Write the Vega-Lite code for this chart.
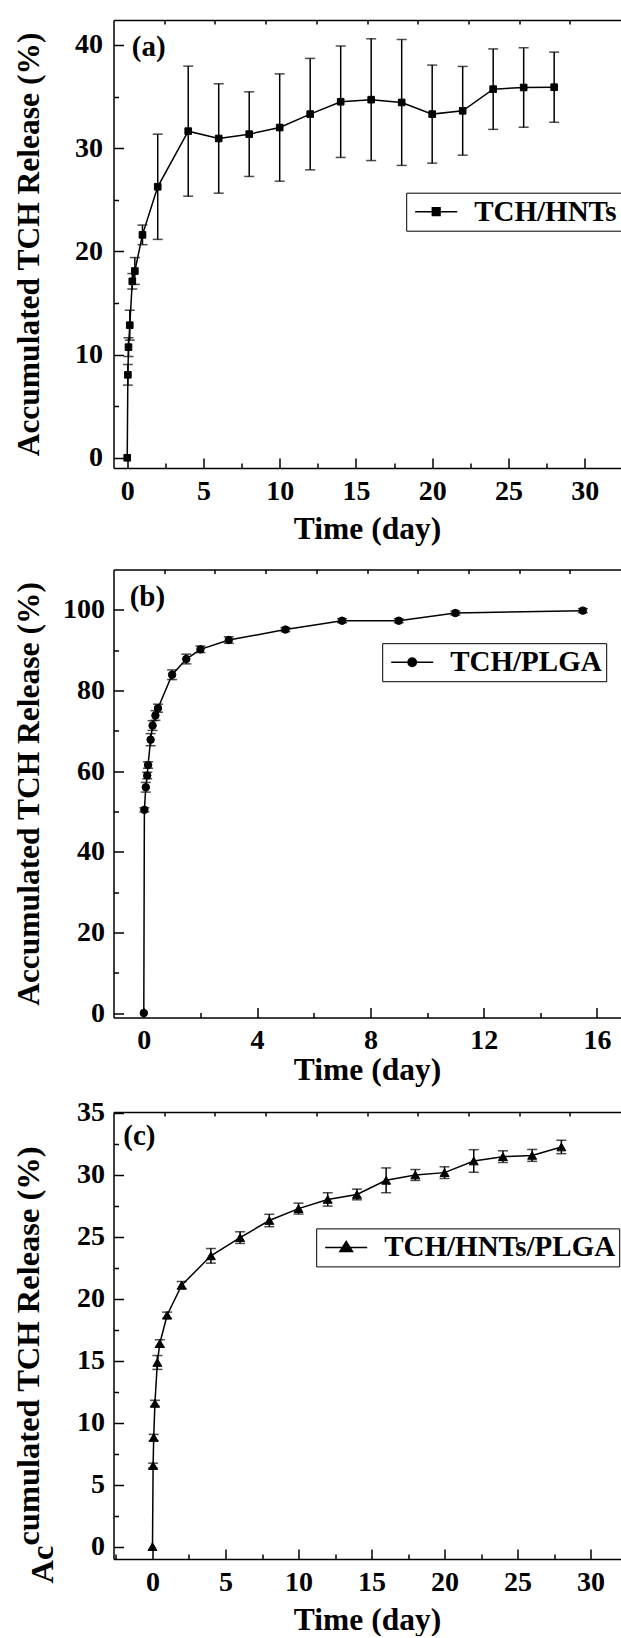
{
  "$schema": "https://vega.github.io/schema/vega-lite/v6.json",
  "padding": {"left": 12.5, "top": 19, "right": 0, "bottom": 0},
  "spacing": 11.5,
  "resolve": {"scale": {"stroke": "independent"}, "legend": {"stroke": "independent"}},
  "config": {
    "font": "Liberation Serif",
    "view": {"stroke": null},
    "axis": {"grid": false, "domainColor": "black", "domainWidth": 1.5, "tickColor": "black", "tickWidth": 1.5, "labelColor": "black", "labelFont": "Liberation Serif", "labelFontWeight": "bold", "labelFontSize": 28, "titleFont": "Liberation Serif", "titleFontWeight": "bold", "titleColor": "black", "titleLimit": 1000, "labelFlush": false, "labelOverlap": false},
    "legend": {"symbolStrokeColor": "black", "symbolStrokeWidth": 1.5, "symbolFillColor": "black"}
  },
  "datasets": {
    "a": [
      {"t": 0, "v": 0, "sd": 0, "s": "TCH/HNTs"},
      {"t": 0.042, "v": 8.04, "sd": 1.0, "s": "TCH/HNTs"},
      {"t": 0.083, "v": 10.72, "sd": 0.9, "s": "TCH/HNTs"},
      {"t": 0.167, "v": 12.85, "sd": 1.45, "s": "TCH/HNTs"},
      {"t": 0.333, "v": 17.1, "sd": 0.75, "s": "TCH/HNTs"},
      {"t": 0.5, "v": 18.1, "sd": 1.3, "s": "TCH/HNTs"},
      {"t": 1, "v": 21.6, "sd": 0.95, "s": "TCH/HNTs"},
      {"t": 2, "v": 26.26, "sd": 5.1, "s": "TCH/HNTs"},
      {"t": 4, "v": 31.65, "sd": 6.3, "s": "TCH/HNTs"},
      {"t": 6, "v": 30.94, "sd": 5.3, "s": "TCH/HNTs"},
      {"t": 8, "v": 31.36, "sd": 4.1, "s": "TCH/HNTs"},
      {"t": 10, "v": 32.0, "sd": 5.2, "s": "TCH/HNTs"},
      {"t": 12, "v": 33.3, "sd": 5.4, "s": "TCH/HNTs"},
      {"t": 14, "v": 34.5, "sd": 5.4, "s": "TCH/HNTs"},
      {"t": 16, "v": 34.7, "sd": 5.9, "s": "TCH/HNTs"},
      {"t": 18, "v": 34.43, "sd": 6.1, "s": "TCH/HNTs"},
      {"t": 20, "v": 33.3, "sd": 4.75, "s": "TCH/HNTs"},
      {"t": 22, "v": 33.62, "sd": 4.3, "s": "TCH/HNTs"},
      {"t": 24, "v": 35.72, "sd": 3.9, "s": "TCH/HNTs"},
      {"t": 26, "v": 35.88, "sd": 3.85, "s": "TCH/HNTs"},
      {"t": 28, "v": 35.91, "sd": 3.4, "s": "TCH/HNTs"}
    ],
    "b": [
      {"t": 0, "v": 0, "sd": 0, "s": "TCH/PLGA"},
      {"t": 0.02, "v": 50.4, "sd": 0.5, "s": "TCH/PLGA"},
      {"t": 0.07, "v": 56.0, "sd": 1.2, "s": "TCH/PLGA"},
      {"t": 0.12, "v": 58.9, "sd": 0.8, "s": "TCH/PLGA"},
      {"t": 0.15, "v": 61.5, "sd": 0.8, "s": "TCH/PLGA"},
      {"t": 0.24, "v": 67.8, "sd": 1.5, "s": "TCH/PLGA"},
      {"t": 0.31, "v": 71.3, "sd": 1.2, "s": "TCH/PLGA"},
      {"t": 0.41, "v": 73.8, "sd": 1.2, "s": "TCH/PLGA"},
      {"t": 0.5, "v": 75.6, "sd": 1.0, "s": "TCH/PLGA"},
      {"t": 1.0, "v": 83.9, "sd": 1.2, "s": "TCH/PLGA"},
      {"t": 1.5, "v": 87.8, "sd": 1.2, "s": "TCH/PLGA"},
      {"t": 2.0, "v": 90.2, "sd": 0.8, "s": "TCH/PLGA"},
      {"t": 3.0, "v": 92.5, "sd": 0.8, "s": "TCH/PLGA"},
      {"t": 5.0, "v": 95.1, "sd": 0.5, "s": "TCH/PLGA"},
      {"t": 7.0, "v": 97.3, "sd": 0.5, "s": "TCH/PLGA"},
      {"t": 9.0, "v": 97.3, "sd": 0.5, "s": "TCH/PLGA"},
      {"t": 11.0, "v": 99.2, "sd": 0.5, "s": "TCH/PLGA"},
      {"t": 15.5, "v": 99.8, "sd": 0.5, "s": "TCH/PLGA"}
    ],
    "c": [
      {"t": 0, "v": 0, "sd": 0, "s": "TCH/HNTs/PLGA"},
      {"t": 0.042, "v": 6.53, "sd": 0.2, "s": "TCH/HNTs/PLGA"},
      {"t": 0.083, "v": 8.8, "sd": 0.25, "s": "TCH/HNTs/PLGA"},
      {"t": 0.167, "v": 11.55, "sd": 0.25, "s": "TCH/HNTs/PLGA"},
      {"t": 0.333, "v": 14.85, "sd": 0.56, "s": "TCH/HNTs/PLGA"},
      {"t": 0.5, "v": 16.38, "sd": 0.3, "s": "TCH/HNTs/PLGA"},
      {"t": 1, "v": 18.66, "sd": 0.25, "s": "TCH/HNTs/PLGA"},
      {"t": 2, "v": 21.08, "sd": 0.3, "s": "TCH/HNTs/PLGA"},
      {"t": 4, "v": 23.45, "sd": 0.59, "s": "TCH/HNTs/PLGA"},
      {"t": 6, "v": 24.92, "sd": 0.47, "s": "TCH/HNTs/PLGA"},
      {"t": 8, "v": 26.3, "sd": 0.5, "s": "TCH/HNTs/PLGA"},
      {"t": 10, "v": 27.26, "sd": 0.44, "s": "TCH/HNTs/PLGA"},
      {"t": 12, "v": 28.0, "sd": 0.54, "s": "TCH/HNTs/PLGA"},
      {"t": 14, "v": 28.4, "sd": 0.43, "s": "TCH/HNTs/PLGA"},
      {"t": 16, "v": 29.54, "sd": 1.0, "s": "TCH/HNTs/PLGA"},
      {"t": 18, "v": 29.97, "sd": 0.44, "s": "TCH/HNTs/PLGA"},
      {"t": 20, "v": 30.16, "sd": 0.47, "s": "TCH/HNTs/PLGA"},
      {"t": 22, "v": 31.1, "sd": 0.91, "s": "TCH/HNTs/PLGA"},
      {"t": 24, "v": 31.45, "sd": 0.47, "s": "TCH/HNTs/PLGA"},
      {"t": 26, "v": 31.55, "sd": 0.48, "s": "TCH/HNTs/PLGA"},
      {"t": 28, "v": 32.23, "sd": 0.54, "s": "TCH/HNTs/PLGA"}
    ]
  },
  "vconcat": [
    {
      "width": 507, "height": 448,
      "data": {"name": "a"},
      "layer": [
        {
          "transform": [{"filter": "datum.sd > 0"}],
          "mark": {"type": "errorbar", "ticks": true, "size": 10, "thickness": 1.5, "color": "black"},
          "encoding": {
            "x": {"field": "t", "type": "quantitative", "scale": {"domain": [-0.9, 32.35], "nice": false, "zero": false}, "axis": {"orient": "top", "title": null, "labels": false, "tickSize": -4, "values": [2.425, 5.75, 9.075, 12.4, 15.725, 19.05, 22.375, 25.7, 29.025]}},
            "y": {"field": "v", "type": "quantitative", "scale": {"domain": [-0.99, 42.42], "nice": false, "zero": false}, "axis": null},
            "yError": {"field": "sd"}
          }
        },
        {
          "mark": {"type": "line", "color": "black", "strokeWidth": 1.5},
          "encoding": {
            "x": {"field": "t", "type": "quantitative", "scale": {"domain": [-0.9, 32.35], "nice": false, "zero": false}, "axis": {"orient": "bottom", "title": "Time (day)", "titleFontSize": 31.5, "titlePadding": 8, "values": [0, 5, 10, 15, 20, 25, 30], "tickSize": -10, "labelPadding": 19}},
            "y": {"field": "v", "type": "quantitative", "scale": {"domain": [-0.99, 42.42], "nice": false, "zero": false}, "axis": {"orient": "left", "title": "Accumulated TCH Release (%)", "titleFontSize": 31.5, "titlePadding": 8, "values": [0, 10, 20, 30, 40], "tickSize": -10, "labelPadding": 21, "minExtent": 60, "maxExtent": 60}}
          }
        },
        {
          "mark": {"type": "point", "shape": "square", "filled": true, "fill": "black", "strokeWidth": 1, "size": 44, "opacity": 1},
          "encoding": {
            "x": {"field": "t", "type": "quantitative", "scale": {"domain": [-0.9, 32.35], "nice": false, "zero": false}, "axis": {"orient": "bottom", "title": null, "labels": false, "domain": false, "tickSize": -5, "values": [2.5, 7.5, 12.5, 17.5, 22.5, 27.5], "minExtent": 88.5, "maxExtent": 88.5}},
            "y": {"field": "v", "type": "quantitative", "scale": {"domain": [-0.99, 42.42], "nice": false, "zero": false}, "axis": {"orient": "left", "title": null, "labels": false, "domain": false, "tickSize": -5, "values": [5, 15, 25, 35], "minExtent": 60, "maxExtent": 60}},
            "stroke": {"field": "s", "type": "nominal", "scale": {"range": ["black"]}, "legend": {"orient": "none", "legendX": 292.7, "legendY": 172.7, "title": null, "symbolType": "M-1.5,0H1.5M-0.275,-0.275H0.275V0.275H-0.275Z", "symbolSize": 784, "symbolOffset": 11, "labelOffset": 23, "labelLimit": 400, "labelFontSize": 29, "labelFont": "Liberation Serif", "labelFontWeight": "bold", "labelColor": "black", "strokeColor": "black", "padding": 4, "encode": {"symbols": {"update": {"shape": {"value": "M-1.5,0H1.5M-0.275,-0.275H0.275V0.275H-0.275Z"}, "stroke": {"value": "black"}, "fill": {"value": "black"}, "strokeWidth": {"value": 1.5}, "opacity": {"value": 1}}}, "legend": {"update": {"strokeWidth": {"value": 1.5}}}}}}
          }
        },
        {
          "data": {"values": [{}]},
          "mark": {"type": "text", "text": "(a)", "align": "left", "baseline": "middle", "fontSize": 29, "fontWeight": "bold", "font": "Liberation Serif", "color": "black"},
          "encoding": {
            "x": {"datum": 0.3, "type": "quantitative", "scale": {"domain": [-0.9, 32.35], "nice": false, "zero": false}, "axis": null},
            "y": {"datum": 39.8, "type": "quantitative", "scale": {"domain": [-0.99, 42.42], "nice": false, "zero": false}, "axis": null}
          }
        }
      ],
      "resolve": {"axis": {"x": "independent", "y": "independent"}}
    },
    {
      "width": 507, "height": 448,
      "data": {"name": "b"},
      "layer": [
        {
          "transform": [{"filter": "datum.sd > 0"}],
          "mark": {"type": "errorbar", "ticks": true, "size": 10, "thickness": 1.5, "color": "black"},
          "encoding": {
            "x": {"field": "t", "type": "quantitative", "scale": {"domain": [-1.07, 16.83], "nice": false, "zero": false}, "axis": {"orient": "top", "title": null, "labels": false, "tickSize": -4, "values": [0.72, 2.51, 4.3, 6.09, 7.88, 9.67, 11.46, 13.25, 15.04]}},
            "y": {"field": "v", "type": "quantitative", "scale": {"domain": [-1.1, 110], "nice": false, "zero": false}, "axis": null},
            "yError": {"field": "sd"}
          }
        },
        {
          "mark": {"type": "line", "color": "black", "strokeWidth": 1.5},
          "encoding": {
            "x": {"field": "t", "type": "quantitative", "scale": {"domain": [-1.07, 16.83], "nice": false, "zero": false}, "axis": {"orient": "bottom", "title": "Time (day)", "titleFontSize": 31.5, "titlePadding": 0, "values": [0, 4, 8, 12, 16], "tickSize": -10, "labelPadding": 19}},
            "y": {"field": "v", "type": "quantitative", "scale": {"domain": [-1.1, 110], "nice": false, "zero": false}, "axis": {"orient": "left", "title": "Accumulated TCH Release (%)", "titleFontSize": 31.5, "titlePadding": 8, "values": [0, 20, 40, 60, 80, 100], "tickSize": -10, "labelPadding": 19, "minExtent": 60, "maxExtent": 60}}
          }
        },
        {
          "mark": {"type": "point", "shape": "circle", "filled": true, "fill": "black", "strokeWidth": 1, "size": 56, "opacity": 1},
          "encoding": {
            "x": {"field": "t", "type": "quantitative", "scale": {"domain": [-1.07, 16.83], "nice": false, "zero": false}, "axis": {"orient": "bottom", "title": null, "labels": false, "domain": false, "tickSize": -5, "values": [2, 6, 10, 14]}},
            "y": {"field": "v", "type": "quantitative", "scale": {"domain": [-1.1, 110], "nice": false, "zero": false}, "axis": {"orient": "left", "title": null, "labels": false, "domain": false, "tickSize": -5, "values": [10, 30, 50, 70, 90], "minExtent": 60, "maxExtent": 60}},
            "stroke": {"field": "s", "type": "nominal", "scale": {"range": ["black"]}, "legend": {"orient": "none", "legendX": 268.7, "legendY": 73.7, "title": null, "symbolType": "M-1.5,0H1.5M-0.3,0A0.3,0.3 0 1,0 0.3,0A0.3,0.3 0 1,0 -0.3,0Z", "symbolSize": 784, "symbolOffset": 11, "labelOffset": 23, "labelLimit": 400, "labelFontSize": 29, "labelFont": "Liberation Serif", "labelFontWeight": "bold", "labelColor": "black", "strokeColor": "black", "padding": 4, "encode": {"symbols": {"update": {"shape": {"value": "M-1.5,0H1.5M-0.3,0A0.3,0.3 0 1,0 0.3,0A0.3,0.3 0 1,0 -0.3,0Z"}, "stroke": {"value": "black"}, "fill": {"value": "black"}, "strokeWidth": {"value": 1.5}, "opacity": {"value": 1}}}, "legend": {"update": {"strokeWidth": {"value": 1.5}}}}}}
          }
        },
        {
          "data": {"values": [{}]},
          "mark": {"type": "text", "text": "(b)", "align": "left", "baseline": "middle", "fontSize": 29, "fontWeight": "bold", "font": "Liberation Serif", "color": "black"},
          "encoding": {
            "x": {"datum": -0.5, "type": "quantitative", "scale": {"domain": [-1.07, 16.83], "nice": false, "zero": false}, "axis": null},
            "y": {"datum": 103.1, "type": "quantitative", "scale": {"domain": [-1.1, 110], "nice": false, "zero": false}, "axis": null}
          }
        }
      ],
      "resolve": {"axis": {"x": "independent", "y": "independent"}}
    },
    {
      "width": 507, "height": 447,
      "data": {"name": "c"},
      "layer": [
        {
          "transform": [{"filter": "datum.sd > 0"}],
          "mark": {"type": "errorbar", "ticks": true, "size": 10, "thickness": 1.5, "color": "black"},
          "encoding": {
            "x": {"field": "t", "type": "quantitative", "scale": {"domain": [-2.67, 32.05], "nice": false, "zero": false}, "axis": {"orient": "top", "title": null, "labels": false, "tickSize": -4, "values": [0.802, 4.274, 7.746, 11.218, 14.69, 18.162, 21.634, 25.106, 28.578]}},
            "y": {"field": "v", "type": "quantitative", "scale": {"domain": [-1.0, 35.05], "nice": false, "zero": false}, "axis": {"orient": "left", "title": "cumulated TCH Release (%)", "titleFontSize": 32.5, "titlePadding": 8, "titleY": 433.1, "titleAlign": "left", "labels": false, "ticks": false, "domain": false, "minExtent": 60, "maxExtent": 60}},
            "yError": {"field": "sd"}
          }
        },
        {
          "mark": {"type": "line", "color": "black", "strokeWidth": 1.5},
          "encoding": {
            "x": {"field": "t", "type": "quantitative", "scale": {"domain": [-2.67, 32.05], "nice": false, "zero": false}, "axis": {"orient": "bottom", "title": "Time (day)", "titleFontSize": 31.5, "titlePadding": 8, "values": [0, 5, 10, 15, 20, 25, 30], "tickSize": -10, "labelPadding": 19}},
            "y": {"field": "v", "type": "quantitative", "scale": {"domain": [-1.0, 35.05], "nice": false, "zero": false}, "axis": {"orient": "left", "title": "Ac", "titleFontSize": 32.5, "titlePadding": 4, "titleY": 471, "titleAlign": "left", "values": [0, 5, 10, 15, 20, 25, 30, 35], "tickSize": -10, "labelPadding": 19, "minExtent": 50, "maxExtent": 50}}
          }
        },
        {
          "mark": {"type": "point", "shape": "triangle-up", "filled": true, "fill": "black", "strokeWidth": 1, "size": 80, "opacity": 1},
          "encoding": {
            "x": {"field": "t", "type": "quantitative", "scale": {"domain": [-2.67, 32.05], "nice": false, "zero": false}, "axis": {"orient": "bottom", "title": null, "labels": false, "domain": false, "tickSize": -5, "values": [-2.5, 2.5, 7.5, 12.5, 17.5, 22.5, 27.5]}},
            "y": {"field": "v", "type": "quantitative", "scale": {"domain": [-1.0, 35.05], "nice": false, "zero": false}, "axis": {"orient": "left", "title": null, "labels": false, "domain": false, "tickSize": -5, "values": [2.5, 7.5, 12.5, 17.5, 22.5, 27.5, 32.5], "minExtent": 60, "maxExtent": 60}},
            "stroke": {"field": "s", "type": "nominal", "scale": {"range": ["black"]}, "legend": {"orient": "none", "legendX": 202.7, "legendY": 116.4, "title": null, "symbolType": "M-1.5,0H1.5M0,-0.42L0.45,0.3H-0.45Z", "symbolSize": 784, "symbolOffset": 11, "labelOffset": 23, "labelLimit": 400, "labelFontSize": 29, "labelFont": "Liberation Serif", "labelFontWeight": "bold", "labelColor": "black", "strokeColor": "black", "padding": 4, "encode": {"symbols": {"update": {"shape": {"value": "M-1.5,0H1.5M0,-0.42L0.45,0.3H-0.45Z"}, "stroke": {"value": "black"}, "fill": {"value": "black"}, "strokeWidth": {"value": 1.5}, "opacity": {"value": 1}}}, "legend": {"update": {"strokeWidth": {"value": 1.5}}}}}}
          }
        },
        {
          "data": {"values": [{}]},
          "mark": {"type": "text", "text": "(c)", "align": "left", "baseline": "middle", "fontSize": 29, "fontWeight": "bold", "font": "Liberation Serif", "color": "black"},
          "encoding": {
            "x": {"datum": -2.0, "type": "quantitative", "scale": {"domain": [-2.67, 32.05], "nice": false, "zero": false}, "axis": null},
            "y": {"datum": 33.1, "type": "quantitative", "scale": {"domain": [-1.0, 35.05], "nice": false, "zero": false}, "axis": null}
          }
        }
      ],
      "resolve": {"axis": {"x": "independent", "y": "independent"}}
    }
  ]
}
